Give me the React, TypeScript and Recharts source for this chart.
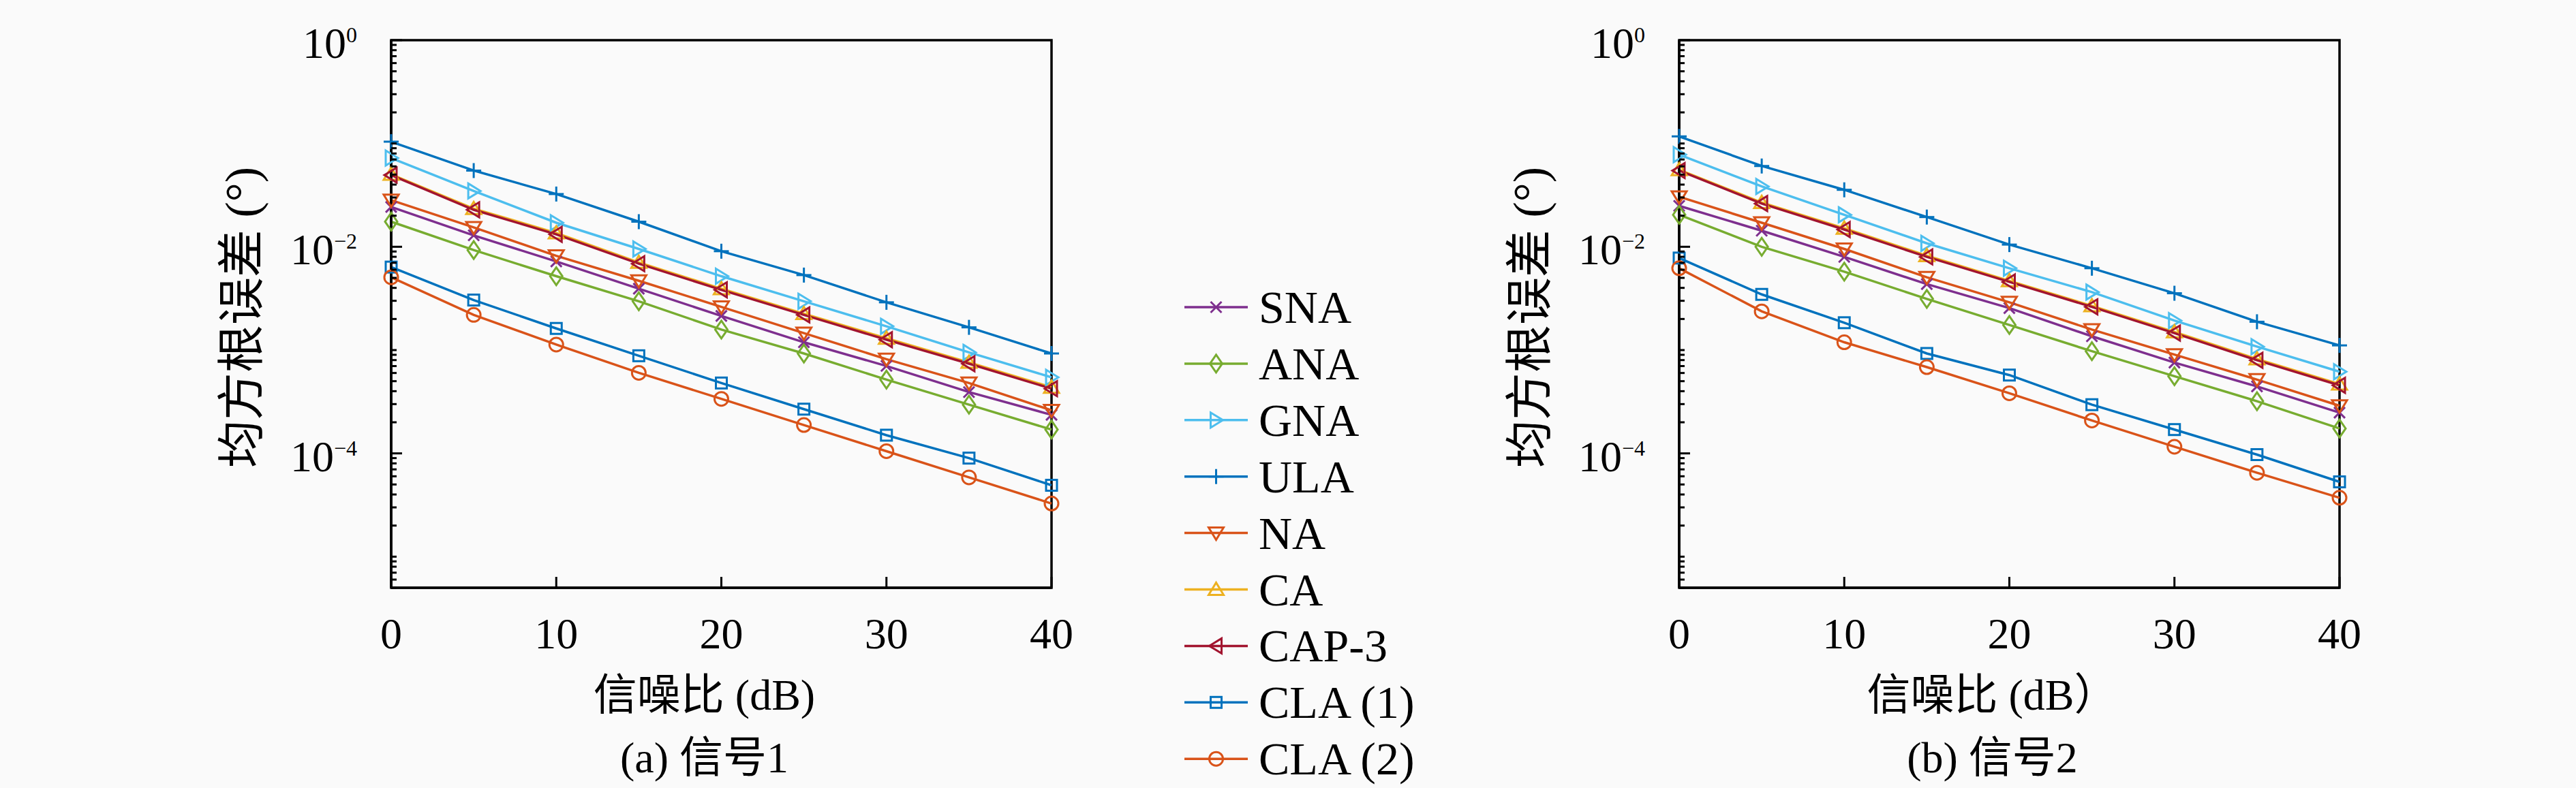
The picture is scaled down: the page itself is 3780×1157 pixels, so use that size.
import React from "react";
import { LineChart, Line, XAxis, YAxis, ReferenceArea, Legend } from "recharts";

// SNR axis (dB)
const snr = [0, 5, 10, 15, 20, 25, 30, 35, 40];
const xTicks = [0, 10, 20, 30, 40];
const yMajor = [1, 1e-2, 1e-4];

const names = ["SNA", "ANA", "GNA", "ULA", "NA", "CA", "CAP-3", "CLA (1)", "CLA (2)"];

// (a) 信号1
const s1SNA = [0.0243, 0.0129, 0.00721, 0.00393, 0.00214, 0.00119, 0.000702, 0.000392, 0.000236];
const s1ANA = [0.0175, 0.00929, 0.00519, 0.00297, 0.00158, 0.000927, 0.000518, 0.000296, 0.00017];
const s1GNA = [0.0723, 0.0347, 0.0171, 0.00953, 0.00519, 0.00297, 0.0017, 0.00095, 0.000545];
const s1ULA = [0.104, 0.0547, 0.0324, 0.0175, 0.00906, 0.00532, 0.0029, 0.00166, 0.000927];
const s1NA = [0.0283, 0.0154, 0.00818, 0.00469, 0.00262, 0.00146, 0.000817, 0.00048, 0.000261];
const s1CA = [0.0502, 0.0234, 0.0136, 0.00705, 0.00392, 0.00225, 0.0013, 0.00076, 0.000436];
const s1CAP3 = [0.0494, 0.0228, 0.0132, 0.00686, 0.00383, 0.00219, 0.00126, 0.000738, 0.000423];
const s1CLA1 = [0.00636, 0.00305, 0.00162, 0.000881, 0.00048, 0.000268, 0.00015, 0.00009, 0.0000491];
const s1CLA2 = [0.00506, 0.00219, 0.00113, 0.000602, 0.000337, 0.000188, 0.000105, 0.0000586, 0.0000327];

// (b) 信号2
const s2SNA = [0.0249, 0.0143, 0.00798, 0.00435, 0.00255, 0.00136, 0.000757, 0.000445, 0.000248];
const s2ANA = [0.0204, 0.01, 0.00574, 0.00313, 0.00175, 0.000975, 0.000558, 0.00032, 0.000174];
const s2GNA = [0.078, 0.0384, 0.0204, 0.0108, 0.0062, 0.00364, 0.00193, 0.00108, 0.000618];
const s2ULA = [0.117, 0.0606, 0.0356, 0.0194, 0.0105, 0.0062, 0.00355, 0.00188, 0.00111];
const s2NA = [0.0305, 0.0171, 0.00953, 0.00506, 0.0029, 0.00158, 0.000904, 0.000518, 0.000289];
const s2CA = [0.0556, 0.0268, 0.0151, 0.0082, 0.00468, 0.00268, 0.0015, 0.00082, 0.000468];
const s2CAP3 = [0.0547, 0.0262, 0.0147, 0.00798, 0.00457, 0.00262, 0.00146, 0.000797, 0.000456];
const s2CLA1 = [0.00778, 0.00346, 0.00184, 0.000927, 0.000573, 0.000296, 0.00017, 0.0000973, 0.000053];
const s2CLA2 = [0.0062, 0.00237, 0.00119, 0.000684, 0.000382, 0.000208, 0.000116, 0.0000649, 0.0000372];

const sig1 = [s1SNA, s1ANA, s1GNA, s1ULA, s1NA, s1CA, s1CAP3, s1CLA1, s1CLA2];
const sig2 = [s2SNA, s2ANA, s2GNA, s2ULA, s2NA, s2CA, s2CAP3, s2CLA1, s2CLA2];

const colors: Record<string, string> = {
  SNA: "#7E2F8E",
  ANA: "#77AC30",
  GNA: "#4DBEEE",
  ULA: "#0072BD",
  NA: "#D95319",
  CA: "#EDB120",
  "CAP-3": "#A2142F",
  "CLA (1)": "#0072BD",
  "CLA (2)": "#D95319",
};
const markers: Record<string, string> = {
  SNA: "x",
  ANA: "diamond",
  GNA: ">",
  ULA: "+",
  NA: "v",
  CA: "^",
  "CAP-3": "<",
  "CLA (1)": "square",
  "CLA (2)": "circle",
};

const buildRows = (cols: number[][]) =>
  snr.map((x, i) => {
    const row: Record<string, number> = { snr: x };
    names.forEach((n, j) => (row[n] = cols[j][i]));
    return row;
  });

// minor ticks of the log axis
const yMin = 5e-6;
const yTicks: number[] = [];
for (let d = -6; d <= 0; d++) {
  for (let k = 1; k <= 9; k++) {
    const v = Number((k * Math.pow(10, d)).toPrecision(6));
    if (v >= yMin && v <= 1) yTicks.push(v);
  }
}

const SERIF = "'Liberation Serif', 'DejaVu Serif', serif";
const CJK = "'Liberation Serif', 'Noto Sans CJK SC', sans-serif";

function Marker({ shape, cx, cy, color }: { shape: string; cx: number; cy: number; color: string }) {
  const p = { stroke: color, strokeWidth: 3, fill: "none" };
  switch (shape) {
    case "x":
      return (
        <g {...p}>
          <line x1={cx - 8} y1={cy - 8} x2={cx + 8} y2={cy + 8} />
          <line x1={cx - 8} y1={cy + 8} x2={cx + 8} y2={cy - 8} />
        </g>
      );
    case "+":
      return (
        <g {...p}>
          <line x1={cx - 11} y1={cy} x2={cx + 11} y2={cy} />
          <line x1={cx} y1={cy - 11} x2={cx} y2={cy + 11} />
        </g>
      );
    case "diamond":
      return <polygon {...p} points={`${cx},${cy - 13} ${cx + 9},${cy} ${cx},${cy + 13} ${cx - 9},${cy}`} />;
    case ">":
      return <polygon {...p} points={`${cx - 8},${cy - 11} ${cx + 10},${cy} ${cx - 8},${cy + 11}`} />;
    case "<":
      return <polygon {...p} points={`${cx + 8},${cy - 11} ${cx - 10},${cy} ${cx + 8},${cy + 11}`} />;
    case "v":
      return <polygon {...p} points={`${cx - 11},${cy - 8} ${cx + 11},${cy - 8} ${cx},${cy + 10}`} />;
    case "^":
      return <polygon {...p} points={`${cx - 11},${cy + 8} ${cx + 11},${cy + 8} ${cx},${cy - 10}`} />;
    case "square":
      return <rect {...p} x={cx - 8} y={cy - 8} width={16} height={16} />;
    default:
      return <circle {...p} cx={cx} cy={cy} r={10} />;
  }
}

const XTick = (props: any) => {
  const { x, y, payload } = props;
  return (
    <g>
      <line x1={x} y1={y} x2={x} y2={y - 16} stroke="#000" strokeWidth={3} />
      <text x={x} y={y + 89} textAnchor="middle" fontFamily={SERIF} fontSize={64} fill="#000">
        {payload.value}
      </text>
    </g>
  );
};

const YTick = (props: any) => {
  const { x, y, payload } = props;
  const v = payload.value;
  const lg = Math.log10(v);
  const major = yMajor.some((m) => Math.abs(Math.log10(m) - lg) < 1e-6);
  if (!major) return <line x1={x} y1={y} x2={x + 8} y2={y} stroke="#000" strokeWidth={3} />;
  const exp = Math.round(lg);
  return (
    <g>
      <line x1={x} y1={y} x2={x + 16} y2={y} stroke="#000" strokeWidth={3} />
      <text x={x - 50} y={y + 26} textAnchor="end" fontFamily={SERIF} fontSize={64} fill="#000">
        <tspan>10</tspan>
        <tspan dy={-23} fontSize={32}>
          {exp === 0 ? "0" : "\u2212" + String(-exp)}
        </tspan>
      </text>
    </g>
  );
};

const LegendBox = () => (
  <svg width={420} height={760}>
    {names.map((n, i) => {
      const y = 51 + i * 82.9;
      return (
        <g key={n}>
          <line x1={18} y1={y} x2={111} y2={y} stroke={colors[n]} strokeWidth={3.5} />
          <Marker shape={markers[n]} cx={64.5} cy={y} color={colors[n]} />
          <text x={127} y={y + 23} fontFamily={SERIF} fontSize={68} fill="#000">
            {n}
          </text>
        </g>
      );
    })}
  </svg>
);

type PanelProps = {
  cols: number[][];
  width: number;
  margin: { top: number; right: number; bottom: number; left: number };
  xTitle: string;
  caption: string;
  legend?: boolean;
};

const Panel = ({ cols, width, margin, xTitle, caption, legend }: PanelProps) => {
  const data = buildRows(cols);
  return (
    <LineChart width={width} height={1157} data={data} margin={margin}>
      <XAxis
        dataKey="snr"
        type="number"
        domain={[0, 40]}
        ticks={xTicks}
        interval={0}
        height={100}
        tickSize={0}
        tickMargin={0}
        tickLine={false}
        axisLine={{ stroke: "#000", strokeWidth: 3.5 }}
        tick={<XTick />}
        label={(p: any) => {
          const vb = p.viewBox;
          const cx = vb.x + vb.width / 2 - 25;
          return (
            <g>
              <text x={cx} y={1042} textAnchor="middle" fontFamily={CJK} fontSize={64} fill="#000">
                {xTitle}
              </text>
              <text x={cx} y={1134} textAnchor="middle" fontFamily={CJK} fontSize={64} fill="#000">
                {caption}
              </text>
            </g>
          );
        }}
      />
      <YAxis
        type="number"
        scale="log"
        domain={[yMin, 1]}
        allowDataOverflow
        ticks={yTicks}
        interval={0}
        width={150}
        tickSize={0}
        tickMargin={0}
        tickLine={false}
        axisLine={{ stroke: "#000", strokeWidth: 3.5 }}
        tick={<YTick />}
        label={(p: any) => {
          const vb = p.viewBox;
          const cx = vb.x + vb.width - 219;
          const cy = vb.y + vb.height / 2 + 5;
          return (
            <text
              x={cx}
              y={cy}
              transform={`rotate(-90, ${cx}, ${cy})`}
              textAnchor="middle"
              dominantBaseline="central"
              fontFamily={CJK}
              fontSize={70}
              fill="#000"
            >
              均方根误差 (°)
            </text>
          );
        }}
      />
      <ReferenceArea
        x1={0}
        x2={40}
        y1={yMin}
        y2={1}
        fill="none"
        stroke="#000"
        strokeWidth={3.5}
        ifOverflow="visible"
      />
      {names.map((n) => (
        <Line
          key={n}
          dataKey={n}
          name={n}
          type="linear"
          stroke={colors[n]}
          strokeWidth={3.5}
          isAnimationActive={false}
          activeDot={false}
          dot={(d: any) => (
            <Marker key={`${n}-${d.index}`} shape={markers[n]} cx={d.cx} cy={d.cy} color={colors[n]} />
          )}
        />
      ))}
      {legend && (
        <Legend
          layout="vertical"
          align="center"
          verticalAlign="middle"
          content={() => <LegendBox />}
          wrapperStyle={{ position: "absolute", left: 1720, top: 400, width: 420, height: 760 }}
        />
      )}
    </LineChart>
  );
};

export default function App() {
  return (
    <div
      style={{
        position: "absolute",
        left: 0,
        top: 0,
        width: 3780,
        height: 1157,
        background: "#fafafa",
        overflow: "hidden",
      }}
    >
      <div style={{ position: "absolute", left: 0, top: 0 }}>
        <Panel
          cols={sig1}
          width={2200}
          margin={{ top: 59, right: 657, bottom: 194, left: 424 }}
          xTitle="信噪比 (dB)"
          caption="(a) 信号1"
          legend
        />
      </div>
      <div style={{ position: "absolute", left: 2200, top: 0 }}>
        <Panel
          cols={sig2}
          width={1580}
          margin={{ top: 59, right: 347, bottom: 194, left: 114 }}
          xTitle="信噪比 (dB）"
          caption="(b) 信号2"
        />
      </div>
    </div>
  );
}
